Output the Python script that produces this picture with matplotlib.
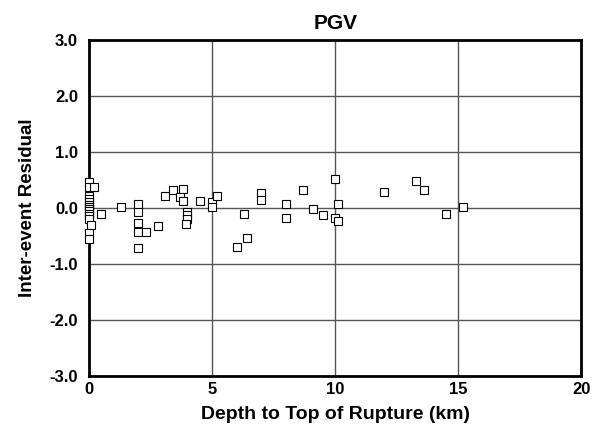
import matplotlib
matplotlib.use("Agg")
import matplotlib.pyplot as plt

# inter-event residuals for PGV against depth to top of rupture
ztor_km = [0, 0, 0, 0, 0, 0, 0, 0, 0, 0, 0, 0, 0, 0,
           0.2, 0.1, 0.5, 1.3,
           2.0, 2.0, 2.0, 2.0, 2.0, 2.3, 2.8,
           3.1, 3.4, 3.8, 3.7, 3.8, 4.0, 4.0, 4.0, 3.95, 4.5,
           5.0, 5.0, 5.2, 6.3, 6.4, 6.0, 7.0, 7.0, 8.0, 8.0,
           8.7, 9.1, 9.5, 10.0, 10.1, 10.0, 10.1,
           12.0, 13.3, 13.6, 14.5, 15.2]
residual = [0.47, 0.38, 0.22, 0.16, 0.11, 0.06, 0.02, -0.02, -0.06, -0.1, -0.15, -0.2, -0.44, -0.55,
            0.37, -0.3, -0.1, 0.01,
            0.07, -0.07, -0.27, -0.43, -0.72, -0.42, -0.32,
            0.21, 0.33, 0.34, 0.19, 0.12, -0.08, -0.13, -0.2, -0.29, 0.12,
            0.11, 0.01, 0.21, -0.11, -0.54, -0.69, 0.26, 0.14, 0.07, -0.17,
            0.32, -0.01, -0.12, 0.51, 0.08, -0.18, -0.23,
            0.29, 0.48, 0.32, -0.11, 0.02]

x_ticks = [0, 5, 10, 15, 20]
y_ticks = [-3, -2, -1, 0, 1, 2, 3]

plt.rcParams["font.family"] = ["Liberation Sans", "DejaVu Sans"]
plt.rcParams["font.weight"] = "bold"

fig = plt.figure(figsize=(6.03, 4.33), dpi=100)
ax = fig.add_axes([0.1476, 0.1316, 0.8164, 0.776])

ax.plot(ztor_km, residual, linestyle="none", marker="s", markersize=5.3,
        markerfacecolor="white", markeredgecolor="black", markeredgewidth=0.8,
        zorder=3, clip_on=False)

ax.set_xlim(0, 20)
ax.set_ylim(-3, 3)
ax.set_xticks(x_ticks)
ax.set_yticks(y_ticks)
ax.set_xticklabels([str(t) for t in x_ticks])
ax.set_yticklabels([f"{t:.1f}" for t in y_ticks])
ax.tick_params(length=0, labelsize=12)
ax.tick_params(axis="x", pad=4)
ax.tick_params(axis="y", pad=8)
for lbl in ax.get_xticklabels() + ax.get_yticklabels():
    lbl.set_fontweight("bold")

ax.grid(True, color="#555555", linewidth=1.0)
ax.set_axisbelow(True)
for sp in ax.spines.values():
    sp.set_linewidth(2)
    sp.set_color("black")
    sp.set_zorder(2.5)

ax.set_xlabel("Depth to Top of Rupture (km)", fontsize=14, fontweight="bold", labelpad=7)
ax.set_ylabel("Inter-event Residual", fontsize=13.5, fontweight="bold", labelpad=10)
ax.set_title("PGV", fontsize=15, fontweight="bold", pad=8)

fig.savefig("out.png", dpi=100)
